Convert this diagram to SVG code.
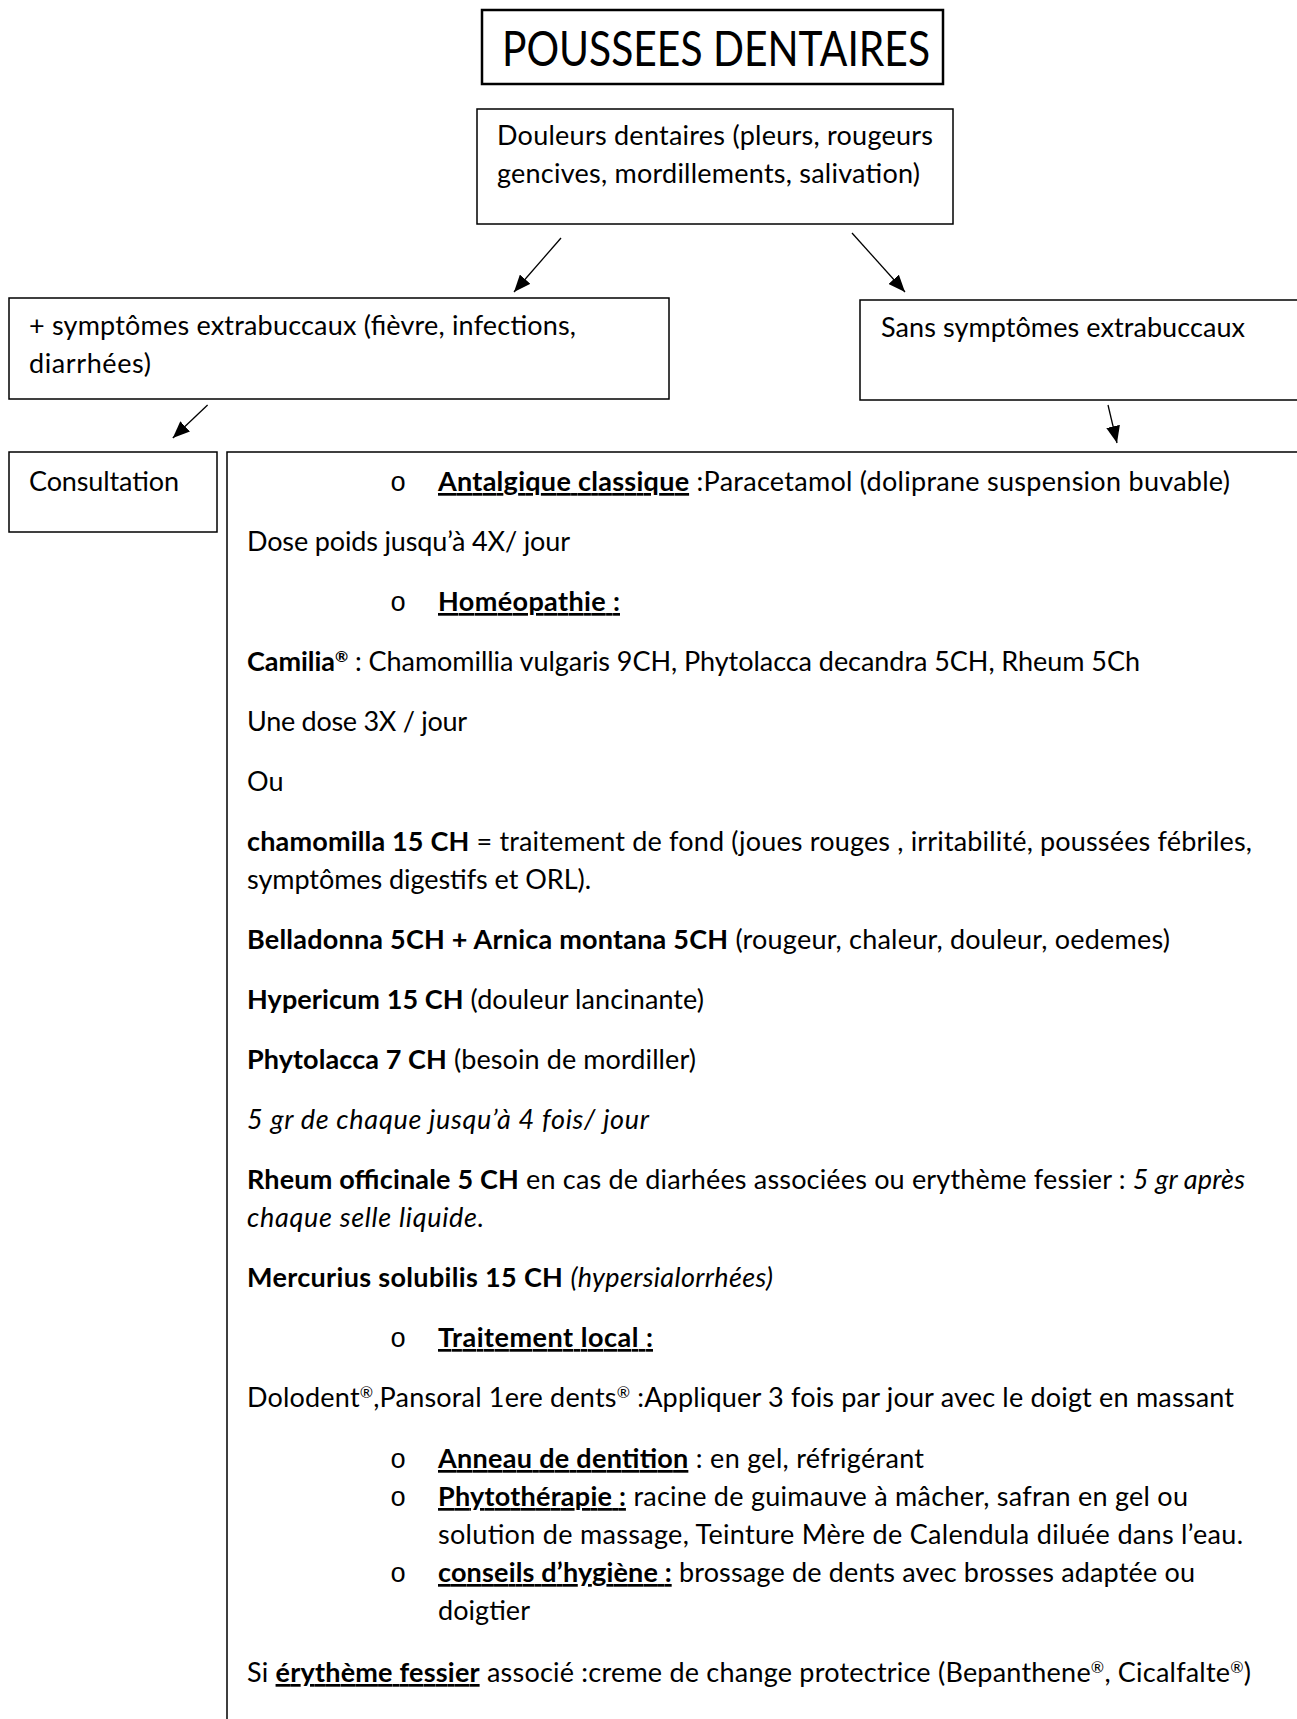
<svg xmlns="http://www.w3.org/2000/svg" width="1297" height="1719" viewBox="0 0 1297 1719">
<style>
text{font-family:Lato,"Open Sans","Liberation Sans",sans-serif;font-size:27px;fill:#000}
.box{fill:#fff;stroke:#000;stroke-width:1.5}
.title{font-size:48px;font-weight:normal}
.b{font-weight:bold}
.i{font-style:italic}
.u{text-decoration:underline}
.sup{font-size:16px}
.bul{font-family:"Liberation Mono",monospace;font-size:27px}
.conn line{stroke:#000;stroke-width:1.3;marker-end:url(#ah)}
</style>
<defs>
<marker id="ah" viewBox="0 0 17 14" refX="17" refY="7" markerWidth="17" markerHeight="14" markerUnits="userSpaceOnUse" orient="auto">
<path d="M0,0 L17,7 L0,14 z" fill="#000"/>
</marker>
</defs>
<rect width="1297" height="1719" fill="#fff"/>

<g id="title">
<rect x="482" y="10" width="461" height="74" fill="#fff" stroke="#000" stroke-width="2.5"/>
<text class="title" x="502" y="66" textLength="428" lengthAdjust="spacingAndGlyphs">POUSSEES DENTAIRES</text>
</g>

<g id="douleurs">
<rect class="box" x="477" y="109" width="476" height="115"/>
<text x="497" y="145" textLength="436" lengthAdjust="spacing">Douleurs dentaires (pleurs, rougeurs</text>
<text x="497" y="183" textLength="423" lengthAdjust="spacing">gencives, mordillements, salivation)</text>
</g>

<g id="avec">
<rect class="box" x="9" y="298" width="660" height="101"/>
<text x="29" y="335" textLength="547" lengthAdjust="spacing">+ symptômes extrabuccaux (fièvre, infections,</text>
<text x="29" y="373" textLength="122" lengthAdjust="spacing">diarrhées)</text>
</g>

<g id="sans">
<rect class="box" x="860" y="300" width="450" height="100"/>
<text x="881" y="337" textLength="364" lengthAdjust="spacing">Sans symptômes extrabuccaux</text>
</g>

<g id="consultation">
<rect class="box" x="9" y="452" width="208" height="80"/>
<text x="29" y="491" textLength="150" lengthAdjust="spacing">Consultation</text>
</g>

<g id="traitement">
<rect class="box" x="227" y="452" width="1100" height="1300"/>
<text class="bul" x="390" y="491">o</text>
<text x="438" y="491" textLength="792" lengthAdjust="spacing"><tspan class="b u">Antalgique classique</tspan> :Paracetamol (doliprane suspension buvable)</text>
<text x="247" y="551" textLength="323" lengthAdjust="spacing">Dose poids jusqu’à 4X/ jour</text>
<text class="bul" x="390" y="611">o</text>
<text x="438" y="611" textLength="182" lengthAdjust="spacing"><tspan class="b u">Homéopathie :</tspan></text>
<text x="247" y="671" textLength="893" lengthAdjust="spacing"><tspan class="b">Camilia</tspan><tspan class="b sup" dy="-9">®</tspan><tspan dy="9"> : Chamomillia vulgaris 9CH, Phytolacca decandra 5CH, Rheum 5Ch</tspan></text>
<text x="247" y="731" textLength="220" lengthAdjust="spacing">Une dose 3X / jour</text>
<text x="247" y="791">Ou</text>
<text x="247" y="851" textLength="1005" lengthAdjust="spacing"><tspan class="b">chamomilla 15 CH</tspan> = traitement de fond (joues rouges , irritabilité, poussées fébriles,</text>
<text x="247" y="889" textLength="344" lengthAdjust="spacing">symptômes digestifs et ORL).</text>
<text x="247" y="949" textLength="923" lengthAdjust="spacing"><tspan class="b">Belladonna 5CH + Arnica montana 5CH</tspan> (rougeur, chaleur, douleur, oedemes)</text>
<text x="247" y="1009" textLength="457" lengthAdjust="spacing"><tspan class="b">Hypericum 15 CH</tspan> (douleur lancinante)</text>
<text x="247" y="1069" textLength="449" lengthAdjust="spacing"><tspan class="b">Phytolacca 7 CH</tspan> (besoin de mordiller)</text>
<text class="i" x="247" y="1129" textLength="402" lengthAdjust="spacing">5 gr de chaque jusqu’à 4 fois/ jour</text>
<text x="247" y="1189" textLength="998" lengthAdjust="spacing"><tspan class="b">Rheum officinale 5 CH</tspan> en cas de diarhées associées ou erythème fessier : <tspan class="i">5 gr après</tspan></text>
<text class="i" x="247" y="1227" textLength="237" lengthAdjust="spacing">chaque selle liquide.</text>
<text x="247" y="1287" textLength="526" lengthAdjust="spacing"><tspan class="b">Mercurius solubilis 15 CH</tspan> <tspan class="i">(hypersialorrhées)</tspan></text>
<text class="bul" x="390" y="1347">o</text>
<text x="438" y="1347" textLength="215" lengthAdjust="spacing"><tspan class="b u">Traitement local :</tspan></text>
<text x="247" y="1407" textLength="987" lengthAdjust="spacing">Dolodent<tspan class="sup" dy="-9">®</tspan><tspan dy="9">,Pansoral 1ere dents</tspan><tspan class="sup" dy="-9">®</tspan><tspan dy="9"> :Appliquer 3 fois par jour avec le doigt en massant</tspan></text>
<text class="bul" x="390" y="1468">o</text>
<text x="438" y="1468" textLength="486" lengthAdjust="spacing"><tspan class="b u">Anneau de dentition</tspan> : en gel, réfrigérant</text>
<text class="bul" x="390" y="1506">o</text>
<text x="438" y="1506" textLength="750" lengthAdjust="spacing"><tspan class="b u">Phytothérapie :</tspan> racine de guimauve à mâcher, safran en gel ou</text>
<text x="438" y="1544" textLength="805" lengthAdjust="spacing">solution de massage, Teinture Mère de Calendula diluée dans l’eau.</text>
<text class="bul" x="390" y="1582">o</text>
<text x="438" y="1582" textLength="757" lengthAdjust="spacing"><tspan class="b u">conseils d’hygiène :</tspan> brossage de dents avec brosses adaptée ou</text>
<text x="438" y="1620" textLength="92" lengthAdjust="spacing">doigtier</text>
<text x="247" y="1682" textLength="1004" lengthAdjust="spacing">Si <tspan class="b u">érythème fessier</tspan> associé :creme de change protectrice (Bepanthene<tspan class="sup" dy="-9">®</tspan><tspan dy="9">, Cicalfalte</tspan><tspan class="sup" dy="-9">®</tspan><tspan dy="9">)</tspan></text>
</g>

<g id="connectors" class="conn">
<line x1="561" y1="238" x2="514" y2="292"/>
<line x1="852" y1="233" x2="905" y2="292"/>
<line x1="207.6" y1="405" x2="172.8" y2="438"/>
<line x1="1108" y1="405" x2="1117" y2="443"/>
</g>
</svg>
